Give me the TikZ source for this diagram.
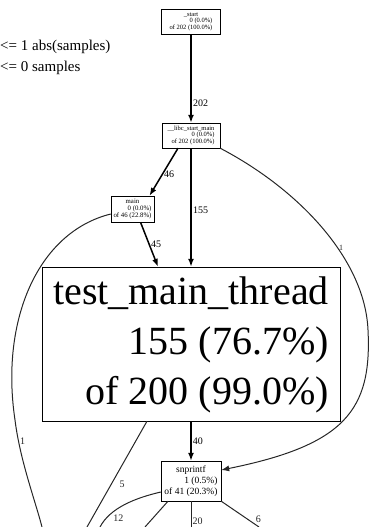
\documentclass[tikz,border=0pt]{standalone}
\usepackage{fontspec}
\setmainfont{Liberation Serif}
\usetikzlibrary{arrows.meta}
\newcommand{\fnlabel}[3]{\begin{tabular}{@{}r@{}}\multicolumn{1}{@{}c@{}}{#1}\\#2\\#3\end{tabular}}

\begin{document}
\begin{tikzpicture}[x=1pt,y=-1pt,
    fnbox/.style={draw, inner sep=1pt, font=\fontsize{6.5}{6.8}\selectfont},
    cnt/.style={inner sep=1pt, font=\fontsize{10}{10}\selectfont},
    callarrow/.style={-{Latex[length=8pt,width=6pt]}, line width=1pt},
    callline/.style={line width=1pt, black!85}]

        \useasboundingbox (0,0) rectangle (369,527);

        % legend
        \node[anchor=north west, align=left, inner sep=0pt, font=\fontsize{15}{21}\selectfont] (legend) at (0,39.5) {<= 1 abs(samples)\\<= 0 samples};

        % Draw the function boxes
        \node[fnbox, minimum width=59pt, minimum height=25pt] (start) at (191,21.5) {\fnlabel{\_start}{0 (0.0\%)}{of 202 (100.0\%)}};
        \node[fnbox, minimum width=58pt, minimum height=25pt] (libc) at (191,135.5) {\fnlabel{\_\_libc\_start\_main}{0 (0.0\%)}{of 202 (100.0\%)}};
        \node[fnbox, font=\fontsize{6.8}{7.2}\selectfont, minimum width=43pt, minimum height=26pt] (main) at (132.5,209) {\fnlabel{main}{0 (0.0\%)}{of 46 (22.8\%)}};
        \node[fnbox, inner sep=2pt, font=\fontsize{40}{50}\selectfont, minimum width=298pt, minimum height=154pt] (test) at (191,344) {\fnlabel{test\_main\_thread}{155 (76.7\%)}{of 200 (99.0\%)}};
        \node[fnbox, inner sep=2pt, font=\fontsize{9.5}{11}\selectfont, minimum width=60pt, minimum height=40pt] (snprintf) at (191,481) {\fnlabel{snprintf}{1 (0.5\%)}{of 41 (20.3\%)}};

        % loose ends at the bottom
        \coordinate (out1) at (42,527);
        \coordinate (out2) at (87,527);
        \coordinate (out3) at (100,527);
        \coordinate (out4) at (145,527);
        \coordinate (out5) at (191,527);
        \coordinate (out6) at (259,527);

        % calls
        \draw[callarrow, line width=2.2pt] (start) -- node[cnt, right, pos=0.78] {202} (libc);
        \draw[callarrow, line width=1.5pt] ([xshift=-13pt]libc.south) -- node[cnt, right, pos=0.55] {46} ([xshift=17pt]main.north);
        \draw[callarrow, line width=2.2pt] (libc) -- node[cnt, right, pos=0.52] {155} (test);
        \draw[callarrow, line width=1.5pt] ([xshift=8pt]main.south) -- node[cnt, right, pos=0.5] {45} ([xshift=-33pt]test.north);
        \draw[callarrow, black!85] (libc.south east) .. controls (300,190) and (365,260) .. (368,330)
            node[cnt, right, pos=0.6, font=\fontsize{8}{8}\selectfont] {1}
            .. controls (372,410) and (345,445) .. ([yshift=11pt]snprintf.east);
        \draw[callarrow, line width=1.5pt] (test) -- node[cnt, right, pos=0.5] {40} (snprintf);

        % calls running out of the picture
        \draw[callline] ([yshift=-5pt]main.west) .. controls (38,232) and (0,320) .. (15,420)
            .. controls (20,460) and (35,500) .. (out1) node[cnt, right, pos=0.18] {1};
        \draw[callline] ([xshift=-44pt]test.south) -- node[cnt, right=7pt, pos=0.6] {5} (out2);
        \draw[callline] ([yshift=-11pt]snprintf.west) .. controls (135,498) and (110,508) .. node[cnt, below=5pt, pos=0.6] {12} (out3);
        \draw[callline] ([xshift=-23pt]snprintf.south) -- (out4);
        \draw[callline] (snprintf) -- node[cnt, right, pos=0.77] {20} (out5);
        \draw[callline] (snprintf.south east) -- node[cnt, anchor=south west, pos=0.88] {6} (out6);
\end{tikzpicture}
\end{document}
